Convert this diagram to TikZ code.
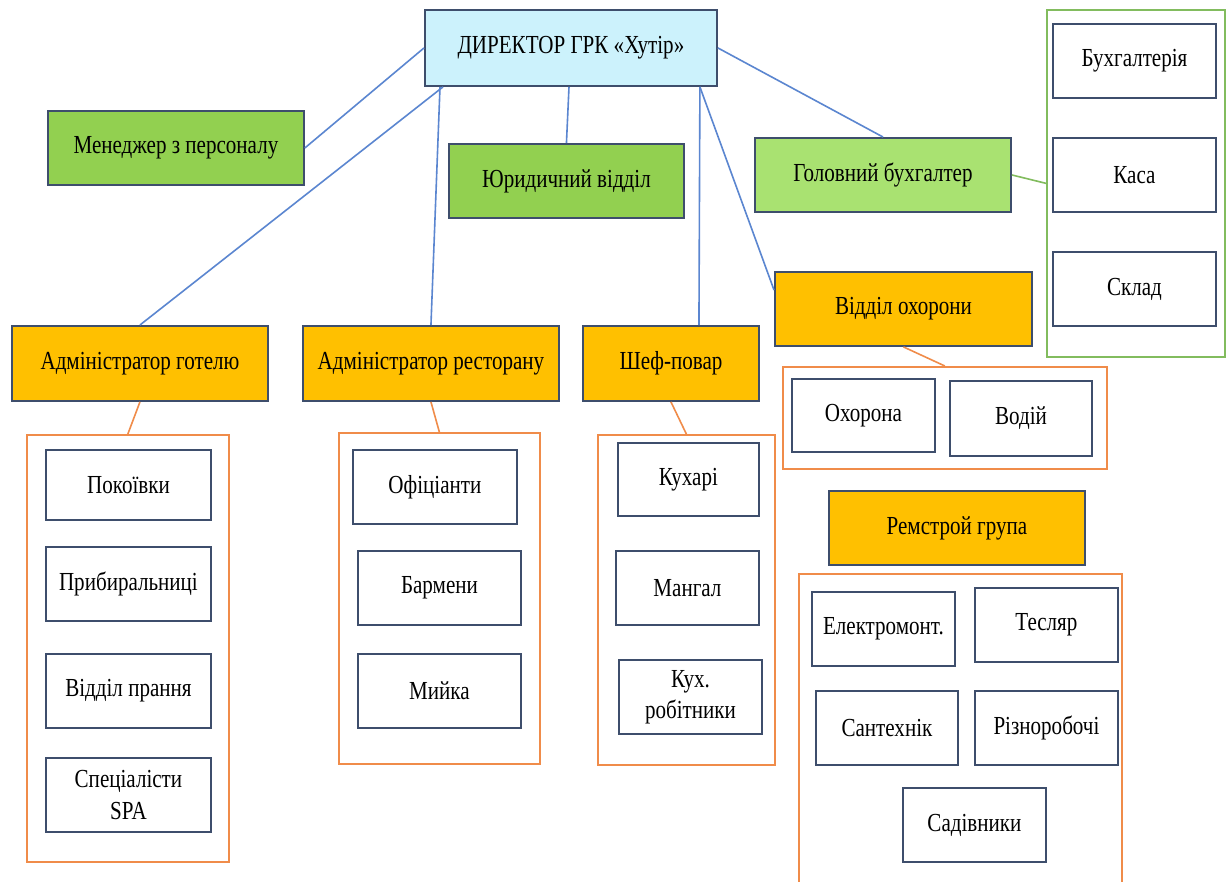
\documentclass[tikz,border=0pt]{standalone}
\usepackage{fontspec}
\setmainfont{Liberation Serif}[FakeStretch=0.81]
\definecolor{bord}{HTML}{3E4E6C}
\definecolor{dircol}{HTML}{CCF2FC}
\definecolor{grn}{HTML}{92D050}
\definecolor{lgrn}{HTML}{A9E271}
\definecolor{orng}{HTML}{FFC000}
\definecolor{oline}{HTML}{F08C4A}
\definecolor{gline}{HTML}{82BC5E}
\definecolor{bline}{HTML}{5B86D0}
\begin{document}
\begin{tikzpicture}[x=1pt,y=-1pt,
  box/.style={draw=bord, line width=1.9pt, inner sep=0pt, anchor=north west, align=center, font=\fontsize{26}{32}\selectfont},
  wbox/.style={box, fill=white},
  ocont/.style={draw=oline, line width=1.7pt, inner sep=0pt, anchor=north west},
  gcont/.style={draw=gline, line width=1.7pt, inner sep=0pt, anchor=north west},
  bcon/.style={draw=bline, line width=1.6pt},
  ocon/.style={draw=oline, line width=1.6pt},
  gcon/.style={draw=gline, line width=1.6pt}]
\useasboundingbox (0,0) rectangle (1226,881);
\fill[white] (0,0) rectangle (1226,881);
% containers
\node[gcont, minimum width=178pt, minimum height=347pt] (accc) at (1046,9) {};
\node[ocont, minimum width=324pt, minimum height=102pt] (secc) at (782,366) {};
\node[ocont, minimum width=323pt, minimum height=330pt] (remc) at (798,573) {};
\node[ocont, minimum width=202pt, minimum height=427pt] (hotelc) at (26,434) {};
\node[ocont, minimum width=201pt, minimum height=331pt] (restoc) at (338,432) {};
\node[ocont, minimum width=177pt, minimum height=330pt] (chefc) at (597,434) {};
% top level
\node[box, fill=dircol, minimum width=292pt, minimum height=76pt] (dir) at (424,9) {ДИРЕКТОР ГРК «Хутір»};
\node[box, fill=grn, minimum width=256pt, minimum height=74pt] (mgr) at (47,110) {Менеджер з персоналу};
\node[box, fill=grn, minimum width=235pt, minimum height=74pt] (legal) at (448,143) {Юридичний відділ};
\node[box, fill=lgrn, minimum width=256pt, minimum height=74pt] (acc) at (754,137) {Головний бухгалтер};
\node[wbox, minimum width=163pt, minimum height=74pt] (b1) at (1052,23) {Бухгалтерія};
\node[wbox, minimum width=163pt, minimum height=74pt] (b2) at (1052,137) {Каса};
\node[wbox, minimum width=163pt, minimum height=74pt] (b3) at (1052,251) {Склад};
\node[box, fill=orng, minimum width=257pt, minimum height=74pt] (sec) at (774,271) {Відділ охорони};
\node[wbox, minimum width=143pt, minimum height=73pt] (s1) at (791,378) {Охорона};
\node[wbox, minimum width=142pt, minimum height=75pt] (s2) at (949,380) {Водій};
\node[box, fill=orng, minimum width=256pt, minimum height=74pt] (rem) at (828,490) {Ремстрой група};
\node[wbox, minimum width=143pt, minimum height=74pt] (r1) at (811,591) {Електромонт.};
\node[wbox, minimum width=143pt, minimum height=74pt] (r2) at (974,587) {Тесляр};
\node[wbox, minimum width=142pt, minimum height=74pt] (r3) at (815,690) {Сантехнік};
\node[wbox, minimum width=143pt, minimum height=74pt] (r4) at (974,690) {Різноробочі};
\node[wbox, minimum width=143pt, minimum height=74pt] (r5) at (902,787) {Садівники};
\node[box, fill=orng, minimum width=256pt, minimum height=75pt] (hotel) at (11,325) {Адміністратор готелю};
\node[wbox, minimum width=165pt, minimum height=70pt] (h1) at (45,449) {Покоївки};
\node[wbox, minimum width=165pt, minimum height=74pt] (h2) at (45,546) {Прибиральниці};
\node[wbox, minimum width=165pt, minimum height=74pt] (h3) at (45,653) {Відділ прання};
\node[wbox, minimum width=165pt, minimum height=74pt] (h4) at (45,757) {Спеціалісти\\SPA};
\node[box, fill=orng, minimum width=256pt, minimum height=75pt] (resto) at (302,325) {Адміністратор ресторану};
\node[wbox, minimum width=164pt, minimum height=74pt] (o1) at (352,449) {Офіціанти};
\node[wbox, minimum width=163pt, minimum height=74pt] (o2) at (357,550) {Бармени};
\node[wbox, minimum width=163pt, minimum height=74pt] (o3) at (357,653) {Мийка};
\node[box, fill=orng, minimum width=176pt, minimum height=75pt] (chef) at (582,325) {Шеф-повар};
\node[wbox, minimum width=141pt, minimum height=73pt] (c1) at (617,442) {Кухарі};
\node[wbox, minimum width=143pt, minimum height=74pt] (c2) at (615,550) {Мангал};
\node[wbox, minimum width=143pt, minimum height=74pt] (c3) at (618,659) {Кух.\\[-1pt]робітники};
% connectors
\draw[bcon] (dir.west) -- (mgr.east);
\draw[bcon] ([xshift=19pt]dir.south west) -- (hotel.north);
\draw[bcon] ([xshift=16pt]dir.south west) -- (resto.north);
\draw[bcon] ([xshift=145pt]dir.south west) -- (legal.north);
\draw[bcon] ([xshift=-18pt]dir.south east) -- ([xshift=28pt]chef.north);
\draw[bcon] ([xshift=-18pt]dir.south east) -- ([yshift=-19pt]sec.north west);
\draw[bcon] (dir.east) -- (acc.north);
\draw[gcon] (acc.east) -- (accc.west);
\draw[ocon] (hotel.south) -- (hotelc.north);
\draw[ocon] (resto.south) -- (restoc.north);
\draw[ocon] (chef.south) -- (chefc.north);
\draw[ocon] (sec.south) -- (secc.north);
\end{tikzpicture}
\end{document}
